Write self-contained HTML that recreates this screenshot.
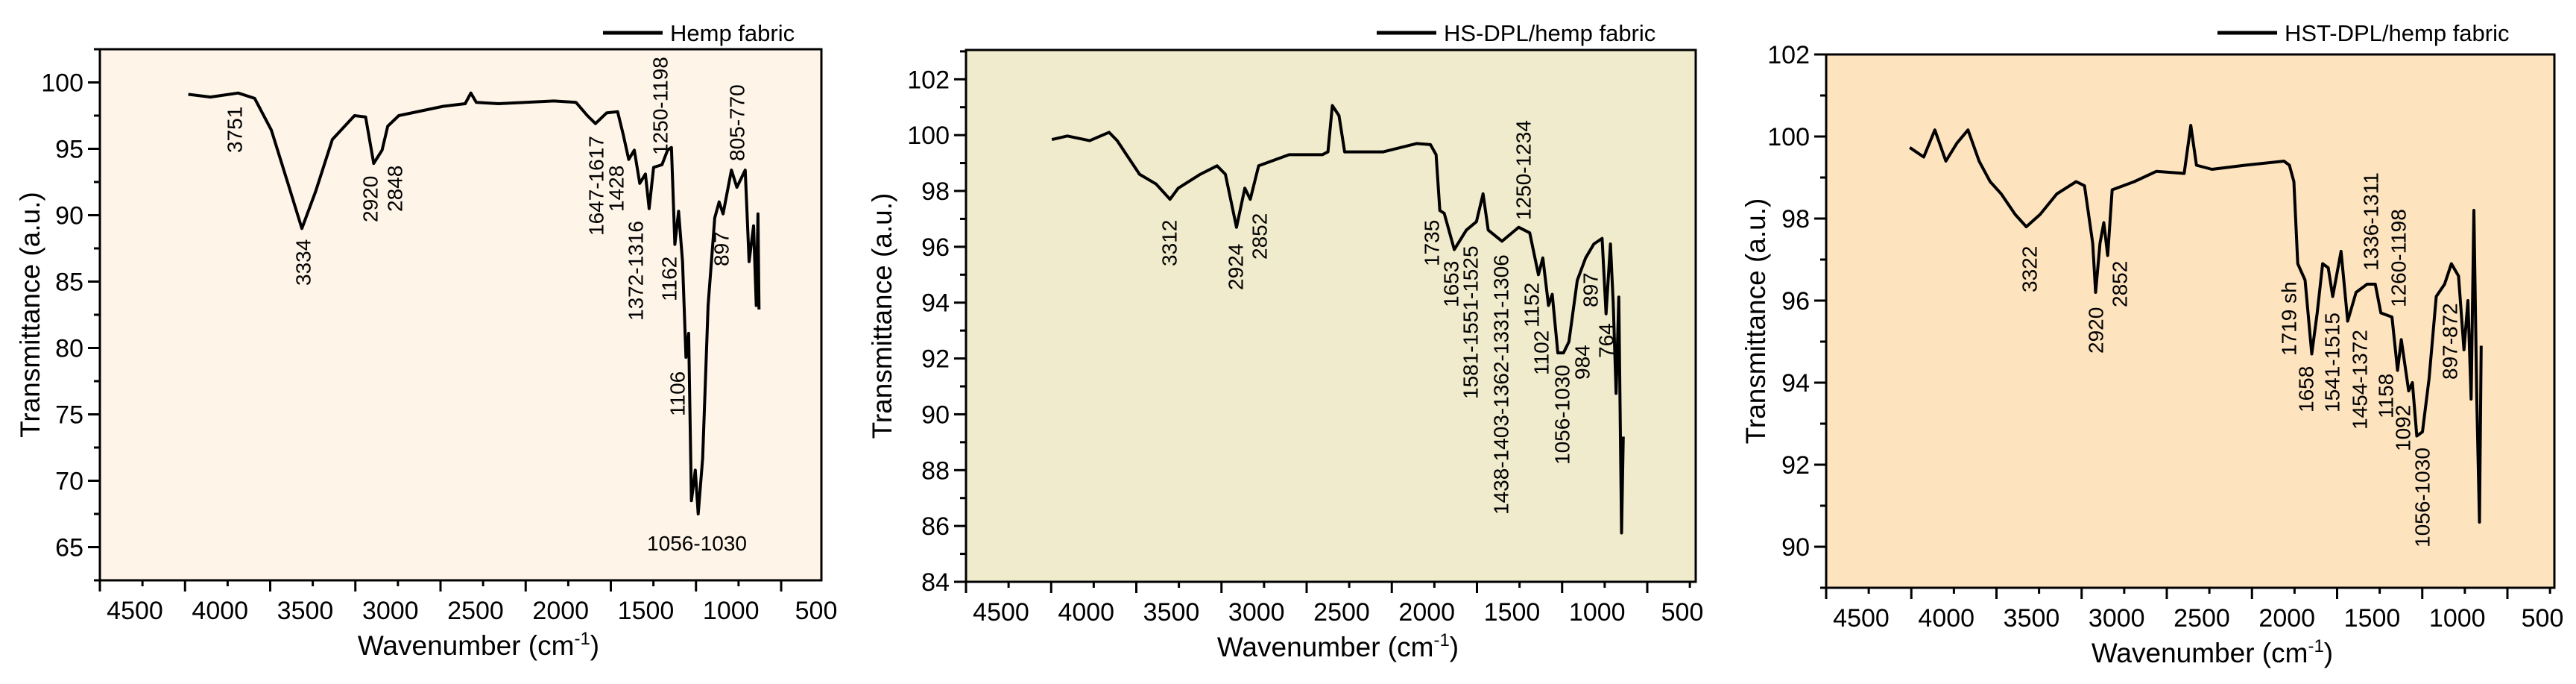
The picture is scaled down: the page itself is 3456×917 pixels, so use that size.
<!DOCTYPE html>
<html><head><meta charset="utf-8"><style>
html,body{margin:0;padding:0;background:#fff;}
svg{display:block;font-family:"Liberation Sans",Arial,sans-serif;}
</style></head><body>
<svg id="root" width="3456" height="917" viewBox="0 0 3456 917" xmlns="http://www.w3.org/2000/svg"></svg>
<script>
// ---- Data (wavenumber cm-1, transmittance) ----
const wn1 = [3981,3851,3688,3591,3493,3396,3314,3233,3135,3005,2940,2892,2843,2810,2745,2484,2355,2322,2290,2160,1834,1705,1638,1590,1525,1460,1428,1395,1362,1330,1297,1275,1249,1200,1167,1144,1124,1102,1079,1059,1043,1027,1004,987,961,929,890,864,841,792,760,711,688,662,646,636,630];
const t1 = [99.1,98.9,99.2,98.8,96.4,92.4,89.0,91.8,95.7,97.5,97.4,93.9,94.9,96.7,97.5,98.2,98.4,99.2,98.5,98.4,98.6,98.5,97.5,96.9,97.7,97.8,96.1,94.2,94.9,92.4,93.1,90.5,93.6,93.8,94.9,95.1,87.8,90.3,86.5,79.3,81.1,68.5,70.8,67.5,71.7,83.2,89.8,91.0,90.1,93.4,92.1,93.4,86.5,89.2,83.2,90.1,82.9];
const wn2 = [3996,3905,3774,3660,3612,3547,3481,3384,3302,3254,3124,3026,2977,2912,2863,2831,2782,2603,2408,2375,2349,2310,2277,2050,1854,1773,1740,1718,1692,1633,1562,1503,1464,1434,1353,1255,1190,1139,1113,1080,1058,1025,992,960,911,862,814,765,742,716,700,683,667,651,641];
const t2 = [99.84,99.97,99.8,100.1,99.8,99.2,98.6,98.25,97.7,98.1,98.6,98.9,98.6,96.7,98.1,97.7,98.9,99.3,99.3,99.4,101.06,100.7,99.4,99.4,99.7,99.66,99.3,97.3,97.2,95.9,96.6,96.9,97.9,96.6,96.2,96.7,96.5,95.0,95.6,93.9,94.3,92.2,92.2,92.6,94.8,95.6,96.1,96.3,93.6,96.1,94.0,90.75,94.2,85.75,89.2];
const wn3 = [4009,3927,3862,3797,3732,3667,3602,3537,3472,3390,3325,3244,3146,3032,2983,2935,2918,2892,2870,2847,2821,2691,2561,2398,2359,2326,2235,2040,1812,1780,1754,1731,1688,1649,1617,1585,1552,1526,1477,1438,1389,1324,1276,1243,1178,1145,1123,1080,1058,1032,999,960,918,869,829,787,755,732,713,697,680,664,654];
const t3 = [99.73,99.5,100.16,99.4,99.84,100.16,99.4,98.9,98.6,98.1,97.8,98.1,98.6,98.9,98.8,97.4,96.2,97.4,97.9,97.1,98.7,98.9,99.15,99.1,100.27,99.3,99.2,99.3,99.4,99.3,98.9,96.9,96.5,94.7,95.7,96.9,96.8,96.1,97.2,95.5,96.2,96.4,96.4,95.7,95.6,94.3,95.05,93.8,94.0,92.7,92.8,94.1,96.1,96.4,96.9,96.6,94.8,96.0,93.6,98.2,93.6,90.6,94.9];
const xTicks = [4500,4000,3500,3000,2500,2000,1500,1000,500];
const yTicks1 = [65,70,75,80,85,90,95,100];
const yTicks2 = [84,86,88,90,92,94,96,98,100,102];
const yTicks3 = [90,92,94,96,98,100,102];
const legend1 = "Hemp fabric", legend2 = "HS-DPL/hemp fabric", legend3 = "HST-DPL/hemp fabric";

const NS = "http://www.w3.org/2000/svg";
const root = document.getElementById('root');
function mk(tag, attrs, parent){const e=document.createElementNS(NS,tag);for(const k in attrs)e.setAttribute(k,attrs[k]);(parent||root).appendChild(e);return e;}

const panels = [
 {id:'hemp', L:134,R:1102,T:66,B:778,ymin:62.5,ymax:102.5,yT:yTicks1,minor:2.5,bg:'#fef4e8',wn:wn1,t:t1,leg:legend1,legX:809,yTitleX:40,xTitleX:642},
 {id:'hs-dpl', L:1296,R:2275,T:67,B:780,ymin:84,ymax:103.05,yT:yTicks2,minor:1,bg:'#f0ebcc',wn:wn2,t:t2,leg:legend2,legX:1847,yTitleX:1183,xTitleX:1795},
 {id:'hst-dpl', L:2450,R:3427,T:73,B:788,ymin:89,ymax:102,yT:yTicks3,minor:1,bg:'#fde3be',wn:wn3,t:t3,leg:legend3,legX:2975,yTitleX:2355,xTitleX:2968}
];
const K = 0.2285;

const notes = [
 [[315,205,'3751'],[407,383,'3334'],[497,298,'2920'],[530,284,'2848'],[800,316,'1647-1617'],[827,284,'1428'],[853,430,'1372-1316'],[886,208,'1250-1198'],[898,404,'1162'],[909,558,'1106'],[968,357,'897'],[989,216,'805-770']],
 [[1569,357,'3312'],[1658,389,'2924'],[1690,348,'2852'],[1921,357,'1735'],[1947,412,'1653'],[1973,535,'1581-1551-1525'],[2014,690,'1438-1403-1362-1331-1306'],[2044,295,'1250-1234'],[2055,439,'1152'],[2068,503,'1102'],[2096,623,'1056-1030'],[2123,509,'984'],[2134,412,'897'],[2155,480,'764']],
 [[2723,392,'3322'],[2812,474,'2920'],[2844,412,'2852'],[3071,477,'1719 sh'],[3094,553,'1658'],[3129,553,'1541-1515'],[3166,576,'1454-1372'],[3181,363,'1336-1311'],[3201,561,'1158'],[3218,412,'1260-1198'],[3224,605,'1092'],[3250,734,'1056-1030'],[3287,509,'897-872']]
];

panels.forEach((p,pi)=>{
  const g = mk('g',{});
  
  
  const xs = v => p.L + (4500 - v)*K;
  const ys = v => p.B - (v - p.ymin)*(p.B-p.T)/(p.ymax-p.ymin);
  const bg = mk('rect',{x:p.L,y:p.T,width:p.R-p.L,height:p.B-p.T,fill:p.bg},g);
  
  
  // x ticks
  xTicks.forEach(v=>{
    const x = xs(v);
    const tk = mk('line',{x1:x,x2:x,y1:p.B,y2:p.B+15,stroke:'#000','stroke-width':3},g);
    
    
    const mx = xs(v-250);
    if (mx < p.R) { const m = mk('line',{x1:mx,x2:mx,y1:p.B,y2:p.B+8,stroke:'#000','stroke-width':3},g);
      
       }
    const lb = mk('text',{x:x+47,y:p.B+52,'font-size':34,'text-anchor':'middle',fill:'#000'},g);
    lb.textContent = v;
    
    
  });
  // y ticks
  for (let v = Math.ceil(p.ymin/p.minor)*p.minor; v <= p.ymax+1e-6; v += p.minor) {
    const major = p.yT.some(t=>Math.abs(t-v)<1e-6);
    const y = ys(v);
    const tk = mk('line',{x1:p.L-(major?16:8),x2:p.L,y1:y,y2:y,stroke:'#000','stroke-width':3},g);
    
    
  }
  p.yT.forEach(v=>{
    const lb = mk('text',{x:p.L-22,y:ys(v)+12,'font-size':34,'text-anchor':'end',fill:'#000'},g);
    lb.textContent = v;
    
    
  });
  // curve
  const pts = p.wn.map((w,i)=>xs(w).toFixed(1)+','+ys(p.t[i]).toFixed(1)).join(' ');
  const line = mk('polyline',{points:pts,fill:'none',stroke:'#000','stroke-width':4,'stroke-linejoin':'round'},g);
  
  
  // frame
  const fr = mk('rect',{x:p.L,y:p.T,width:p.R-p.L,height:p.B-p.T,fill:'none',stroke:'#000','stroke-width':3},g);
  
  
  // annotations
  notes[pi].forEach(n=>{
    const t = mk('text',{x:0,y:0,'font-size':28,fill:'#000','dominant-baseline':'central',transform:`translate(${n[0]},${n[1]}) rotate(-90)`},g);
    t.textContent = n[2];
    
    
  });
  if (pi===0) {
    const t = mk('text',{x:935,y:738,'font-size':28,'text-anchor':'middle',fill:'#000'},g);
    t.textContent = '1056-1030';
    
    
  }
  // legend
  const lg = mk('g',{},g);
  
  
  mk('line',{x1:p.legX,x2:p.legX+80,y1:44,y2:44,stroke:'#000','stroke-width':5},lg);
  const lt = mk('text',{x:p.legX+90,y:55,'font-size':31,fill:'#000'},lg);
  lt.textContent = p.leg;
  // axis titles
  const yt = mk('text',{x:0,y:0,'font-size':37,'text-anchor':'middle',fill:'#000',transform:`translate(${p.yTitleX+13},${(p.T+p.B)/2}) rotate(-90)`},g);
  yt.textContent = 'Transmittance (a.u.)';
  
  
  const xt = mk('text',{x:p.xTitleX,y:p.B+100,'font-size':37,'text-anchor':'middle',fill:'#000'},g);
  
  
  xt.appendChild(document.createTextNode('Wavenumber (cm'));
  const sup = mk('tspan',{dy:-14,'font-size':24},xt); sup.textContent='-1';
  const cl = mk('tspan',{dy:14},xt); cl.textContent=')';
});
</script>
</body></html>
